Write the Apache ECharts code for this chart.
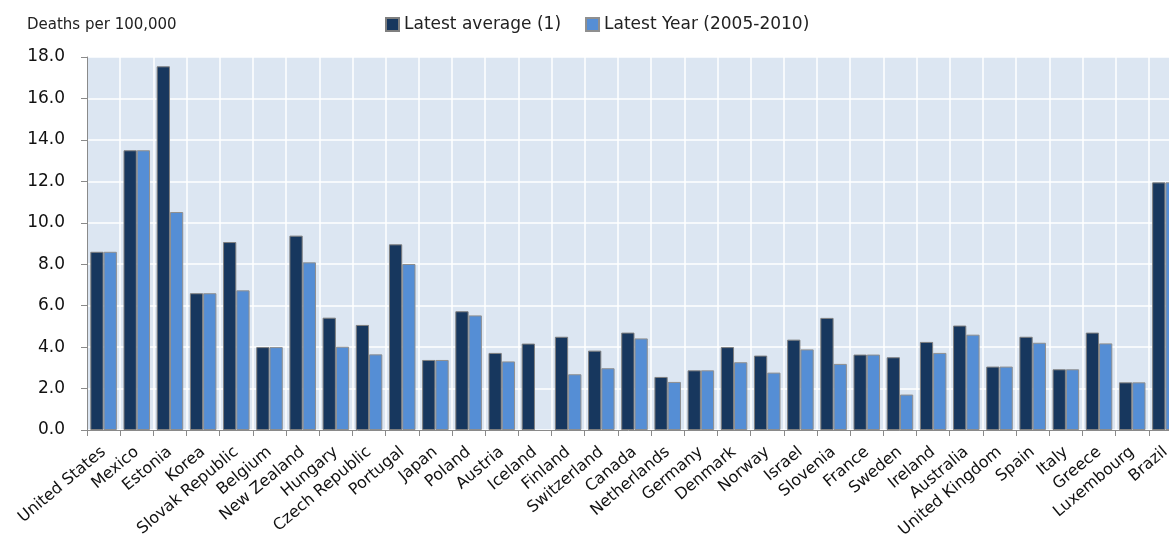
<!DOCTYPE html>
<html>
<head>
<meta charset="utf-8">
<script src="https://cdn.jsdelivr.net/npm/echarts@6/dist/echarts.min.js"></script>
<style>
html,body{margin:0;padding:0;background:#fff;}
#chart{width:1169px;height:543px;}
</style>
</head>
<body>
<div id="chart"></div>
<script>
const categories = ["United States","Mexico","Estonia","Korea","Slovak Republic","Belgium","New Zealand","Hungary","Czech Republic","Portugal","Japan","Poland","Austria","Iceland","Finland","Switzerland","Canada","Netherlands","Germany","Denmark","Norway","Israel","Slovenia","France","Sweden","Ireland","Australia","United Kingdom","Spain","Italy","Greece","Luxembourg","Brazil"];
const latestAverage = [8.6,13.5,17.55,6.6,9.07,4.0,9.38,5.42,5.07,8.96,3.38,5.73,3.72,4.17,4.5,3.83,4.7,2.56,2.88,4.0,3.59,4.36,5.41,3.64,3.51,4.25,5.04,3.06,4.5,2.93,4.7,2.3,11.95];
const latestYear = [8.6,13.5,10.52,6.6,6.74,4.0,8.09,4.02,3.65,8.01,3.38,5.53,3.31,null,2.69,2.98,4.42,2.32,2.88,3.27,2.77,3.89,3.19,3.64,1.71,3.72,4.6,3.06,4.21,2.93,4.18,2.3,11.95];
const seriesNames = ["Latest average (1)","Latest Year (2005-2010)"];
const yAxisTitle = "Deaths per 100,000";

const chart = echarts.init(document.getElementById('chart'), null, {renderer:'canvas'});
const font = "DejaVu Sans";
chart.setOption({
  animation:false,
  title:{text:yAxisTitle,left:22,top:13,textStyle:{fontFamily:font,fontSize:15,fontWeight:'normal',color:'#222'}},
  legend:{left:380,top:11,itemWidth:13,itemHeight:13,itemGap:24,icon:'rect',
    textStyle:{fontFamily:font,fontSize:17,color:'#222'},data:seriesNames},
  grid:{left:87,top:57,width:1095,height:373,show:true,backgroundColor:'#dce6f2',borderWidth:0,
    outerBoundsMode:'none',containLabel:false},
  xAxis:{type:'category',data:categories,
    axisLine:{show:true,lineStyle:{color:'#8a8a8a',width:1}},
    axisTick:{show:true,alignWithLabel:false,length:6,lineStyle:{color:'#8a8a8a'}},
    splitLine:{show:true,lineStyle:{color:'#ffffff',width:1.5}},
    axisLabel:{interval:0,rotate:40,margin:20,fontFamily:font,fontSize:16,color:'#111'}},
  yAxis:{type:'value',min:0,max:18,interval:2,
    axisLine:{show:true,lineStyle:{color:'#8a8a8a',width:1}},
    axisTick:{show:true,length:6,lineStyle:{color:'#8a8a8a'}},
    splitLine:{show:true,lineStyle:{color:'#ffffff',width:1.5}},
    axisLabel:{formatter:v=>v.toFixed(1),margin:22,fontFamily:font,fontSize:17,color:'#111'}},
  series:[
    {name:seriesNames[0],type:'bar',data:latestAverage,barGap:'0%',barCategoryGap:'20%',
      itemStyle:{color:'#17375e',borderColor:'#7f7f7f',borderWidth:1}},
    {name:seriesNames[1],type:'bar',data:latestYear,
      itemStyle:{color:'#558ed5',borderColor:'#8f8f8f',borderWidth:1}}
  ]
});
</script>
</body>
</html>
